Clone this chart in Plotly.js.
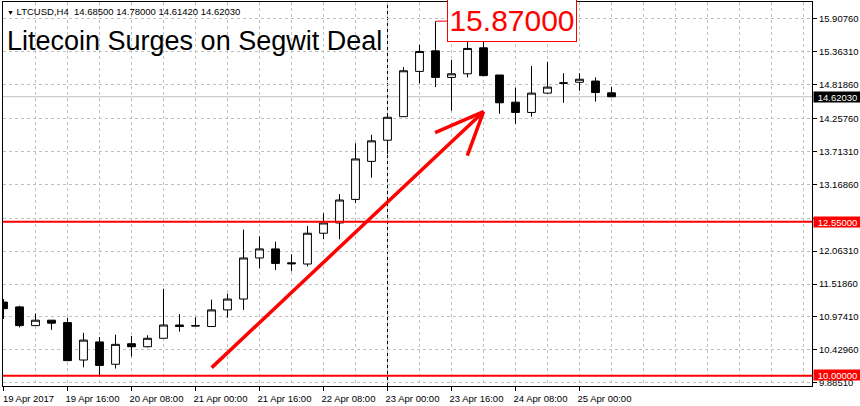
<!DOCTYPE html>
<html>
<head>
<meta charset="utf-8">
<script src="https://cdn.plot.ly/plotly-3.0.1.min.js"></script>
<style>
html, body { margin: 0; padding: 0; background: #ffffff; }
#chart { width: 860px; height: 406px; }
</style>
</head>
<body>
<div id="chart"></div>
<script>
// ---- data (LTCUSD, H4) ----
const times = [
  '2017-04-19 00:00', '2017-04-19 04:00', '2017-04-19 08:00', '2017-04-19 12:00', '2017-04-19 16:00', '2017-04-19 20:00',
  '2017-04-20 00:00', '2017-04-20 04:00', '2017-04-20 08:00', '2017-04-20 12:00', '2017-04-20 16:00', '2017-04-20 20:00',
  '2017-04-21 00:00', '2017-04-21 04:00', '2017-04-21 08:00', '2017-04-21 12:00', '2017-04-21 16:00', '2017-04-21 20:00',
  '2017-04-22 00:00', '2017-04-22 04:00', '2017-04-22 08:00', '2017-04-22 12:00', '2017-04-22 16:00', '2017-04-22 20:00',
  '2017-04-23 00:00', '2017-04-23 04:00', '2017-04-23 08:00', '2017-04-23 12:00', '2017-04-23 16:00', '2017-04-23 20:00',
  '2017-04-24 00:00', '2017-04-24 04:00', '2017-04-24 08:00', '2017-04-24 12:00', '2017-04-24 16:00', '2017-04-24 20:00',
  '2017-04-25 00:00', '2017-04-25 04:00', '2017-04-25 08:00'
];
const openPrices = [
  11.22, 11.14, 10.83, 10.92, 10.88, 10.26,
  10.56, 10.19, 10.53, 10.48, 10.62, 10.84,
  10.83, 10.815, 11.09, 11.27, 11.95, 12.10,
  11.87, 11.85, 12.36, 12.53, 12.92, 13.55,
  13.90, 14.29, 15.04, 15.38, 14.94, 15.00,
  15.43, 14.98, 14.53, 14.36, 14.68, 14.85,
  14.86, 14.88, 14.685
];
const highPrices = [
  11.27, 11.16, 11.03, 10.92, 10.96, 10.71,
  10.64, 10.68, 10.66, 10.67, 11.44, 11.02,
  10.97, 11.26, 11.36, 12.42, 12.31, 12.22,
  12.01, 12.48, 12.69, 13.01, 13.85, 13.99,
  14.30, 15.11, 15.48, 15.87, 15.23, 15.65,
  15.59, 14.98, 14.77, 15.13, 15.20, 15.01,
  15.01, 14.94, 14.78
];
const lowPrices = [
  10.94, 10.80, 10.83, 10.76, 10.25, 10.14,
  10.00, 10.12, 10.32, 10.47, 10.62, 10.73,
  10.82, 10.815, 10.96, 11.09, 11.78, 11.75,
  11.73, 11.81, 12.26, 12.26, 12.86, 13.28,
  13.67, 14.29, 14.84, 14.78, 14.39, 14.94,
  14.96, 14.34, 14.17, 14.29, 14.67, 14.52,
  14.72, 14.54, 14.6142
];
const closePrices = [
  11.11, 10.83, 10.92, 10.87, 10.25, 10.59,
  10.17, 10.52, 10.48, 10.62, 10.84, 10.815,
  10.825, 11.09, 11.27, 11.95, 12.10, 11.86,
  11.855, 12.36, 12.53, 12.91, 13.59, 13.89,
  14.28, 15.05, 15.37, 14.94, 15.00, 15.42,
  14.97, 14.52, 14.36, 14.68, 14.78, 14.845,
  14.91, 14.69, 14.6203
];
const tickTimes = [
  '2017-04-19 00:00', '2017-04-19 16:00', '2017-04-20 08:00', '2017-04-21 00:00', '2017-04-21 16:00',
  '2017-04-22 08:00', '2017-04-23 00:00', '2017-04-23 16:00', '2017-04-24 08:00', '2017-04-25 00:00'
];
const tickLabels = [
  '19 Apr 2017', '19 Apr 16:00', '20 Apr 08:00', '21 Apr 00:00', '21 Apr 16:00',
  '22 Apr 08:00', '23 Apr 00:00', '23 Apr 16:00', '24 Apr 08:00', '25 Apr 00:00'
];
const priceTicks = [15.9076, 15.3631, 14.8186, 14.2576, 13.7131, 13.1686, 12.6106, 12.0631, 11.5186, 10.9741, 10.4296, 9.8851];
const priceTickLabels = ['15.90760', '15.36310', '14.81860', '14.25760', '13.71310', '13.16860', '', '12.06310', '11.51860', '10.97410', '10.42960', '9.88510'];
const levelPrices = [12.55, 10.0];
const levelLabels = ['12.55000', '10.00000'];
const lastPrice = 14.6203;
const lastPriceLabel = '14.62030';
const peakTime = '2017-04-23 12:00';
const peakPrice = 15.87;
const peakLabel = '15.87000';
const separatorTime = '2017-04-23 00:00';
const headerText = 'LTCUSD,H4\u00a0\u00a014.68500 14.78000 14.61420 14.62030';
const titleText = 'Litecoin Surges on Segwit Deal';
// arrow drawing (time, price) points: tail, tip, two barbs
const arrowTail = ['2017-04-21 04:03', 10.134];
const arrowTip = ['2017-04-24 00:00', 14.373];
const arrowBarbA = ['2017-04-23 11:54', 14.025];
const arrowBarbB = ['2017-04-23 19:57', 13.644];

// ---- chart ----
const FONT = 'Liberation Sans, Arial, sans-serif';
const GRID = '#c0c0c0';

const trace = {
  type: 'candlestick',
  x: times,
  open: openPrices,
  high: highPrices,
  low: lowPrices,
  close: closePrices,
  increasing: { line: { color: '#000000', width: 1 }, fillcolor: '#ffffff' },
  decreasing: { line: { color: '#000000', width: 1 }, fillcolor: '#000000' },
  whiskerwidth: 0,
  hoverinfo: 'skip',
  showlegend: false
};

const shapes = [];
shapes.push({
  type: 'line', xref: 'paper', x0: 0, x1: 1, yref: 'y', y0: lastPrice, y1: lastPrice,
  line: { color: GRID, width: 1 }, layer: 'between'
});
shapes.push({
  type: 'line', xref: 'x', x0: separatorTime, x1: separatorTime, yref: 'paper', y0: 0, y1: 1,
  line: { color: '#000000', width: 1, dash: 'dot' }, layer: 'between'
});
levelPrices.forEach(function (p) {
  shapes.push({
    type: 'line', xref: 'paper', x0: 0, x1: 1, yref: 'y', y0: p, y1: p,
    line: { color: '#ff0000', width: 2 }, layer: 'above'
  });
});
[[arrowTail, arrowTip], [arrowBarbA, arrowTip], [arrowBarbB, arrowTip]].forEach(function (seg) {
  shapes.push({
    type: 'line', xref: 'x', yref: 'y',
    x0: seg[0][0], y0: seg[0][1], x1: seg[1][0], y1: seg[1][1],
    line: { color: '#ff0000', width: 3.5 }, layer: 'above'
  });
});

const annotations = [];
annotations.push({
  xref: 'paper', x: 0, xanchor: 'left', xshift: 2,
  yref: 'paper', y: 1, yanchor: 'middle', yshift: -9,
  text: '<span style="font-size:7px">\u25BC</span>\u00a0' + headerText,
  showarrow: false, font: { family: FONT, size: 9.5, color: '#000000' }
});
annotations.push({
  xref: 'paper', x: 0, xanchor: 'left', xshift: 2,
  yref: 'paper', y: 1, yanchor: 'middle', yshift: -39,
  text: titleText, showarrow: false,
  font: { family: FONT, size: 27, color: '#000000' }
});
levelPrices.forEach(function (p, i) {
  annotations.push({
    xref: 'paper', x: 1, xanchor: 'left', xshift: 1,
    yref: 'y', y: p, yanchor: 'middle', yshift: (i === 1 ? 1 : 0),
    text: levelLabels[i], showarrow: false,
    bgcolor: '#ff0000', borderpad: 0, width: 47, height: 10, align: 'center',
    font: { family: FONT, size: 9.5, color: '#ffffff' }
  });
});
annotations.push({
  xref: 'paper', x: 1, xanchor: 'left', xshift: 1,
  yref: 'y', y: lastPrice, yanchor: 'middle',
  text: lastPriceLabel, showarrow: false,
  bgcolor: '#000000', borderpad: 0, width: 47, height: 10, align: 'center',
  font: { family: FONT, size: 9.5, color: '#ffffff' }
});
annotations.push({
  xref: 'x', x: peakTime, yref: 'y', y: peakPrice,
  text: peakLabel, showarrow: true, arrowhead: 0, arrowwidth: 1, arrowcolor: '#ff0000',
  axref: 'pixel', ayref: 'pixel', ax: 76, ay: -1, standoff: 0,
  bgcolor: '#ffffff', bordercolor: '#ff0000', borderwidth: 1, borderpad: 0,
  width: 128, height: 42,
  font: { family: FONT, size: 30, color: '#ff0000' }
});

const layout = {
  width: 860,
  height: 406,
  margin: { l: 3, r: 48, t: 2, b: 20, pad: 0 },
  paper_bgcolor: '#ffffff',
  plot_bgcolor: '#ffffff',
  showlegend: false,
  dragmode: false,
  font: { family: FONT, size: 9.5, color: '#000000' },
  xaxis: {
    type: 'date',
    range: ['2017-04-18 23:52:30', '2017-04-27 10:07:30'],
    tickmode: 'array',
    tickvals: tickTimes,
    ticktext: tickLabels,
    ticks: 'outside', ticklen: 4, tickcolor: '#000000', tickwidth: 1,
    ticklabelshift: 25, ticklabelstandoff: 0,
    tickfont: { family: FONT, size: 9.5, color: '#000000' },
    showline: true, linecolor: '#000000', linewidth: 1, mirror: true,
    showgrid: true, gridcolor: GRID, gridwidth: 1, griddash: '3px,3px',
    minor: { dtick: 8 * 3600 * 1000, tick0: '2017-04-19 00:00', showgrid: true, gridcolor: GRID, gridwidth: 1, griddash: '3px,3px', ticks: '' },
    zeroline: false,
    rangeslider: { visible: false },
    fixedrange: true
  },
  yaxis: {
    side: 'right',
    range: [9.830, 16.189],
    tickmode: 'array',
    tickvals: priceTicks,
    ticktext: priceTickLabels,
    ticks: 'outside', ticklen: 4, tickcolor: '#000000', tickwidth: 1,
    ticklabelstandoff: 0,
    tickfont: { family: FONT, size: 9.5, color: '#000000' },
    showline: true, linecolor: '#000000', linewidth: 1, mirror: true,
    showgrid: true, gridcolor: GRID, gridwidth: 1, griddash: '3px,3px',
    zeroline: false,
    fixedrange: true
  },
  shapes: shapes,
  annotations: annotations
};

Plotly.newPlot('chart', [trace], layout, { displayModeBar: false, staticPlot: true });
</script>
</body>
</html>
